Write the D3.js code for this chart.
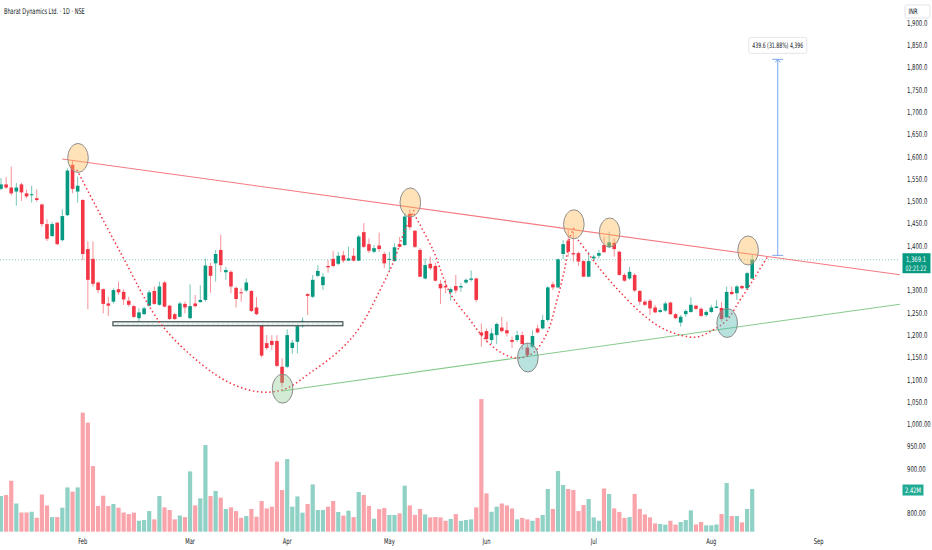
<!DOCTYPE html>
<html>
<head>
<meta charset="utf-8">
<script src="https://cdn.jsdelivr.net/npm/d3@7"></script>
<style>
  body { margin: 0; background: #fff; }
  svg { display: block; }
  text { font-family: "Liberation Sans Narrow", "DejaVu Sans Condensed", "Roboto Condensed", "Liberation Sans", sans-serif; fill: #131722; }
</style>
</head>
<body>
<svg width="932" height="550"></svg>
<script>
// daily candles (index 1 = first visible bar)
var open = [1528,1538,1531,1522,1538,1518,1514,1507,1493,1449,1422,1452,1413,1469,1582,1522,1503,1393,1371,1318,
  1303,1271,1275,1303,1297,1277,1265,1238,1247,1266,1299,1268,1318,1266,1247,1241,1270,1238,1271,1274,
  1279,1355,1361,1391,1341,1342,1306,1296,1300,1299,1262,1229,1182,1187,1187,1129,1129,1171,1185,1220,
  1292,1286,1333,1312,1355,1371,1360,1379,1367,1378,1367,1431,1404,1387,1401,1382,1369,1366,1404,1402,
  1472,1434,1391,1327,1360,1355,1315,1310,1296,1310,1307,1318,1324,1327,1206,1209,1189,1200,1217,1211,
  1189,1189,1200,1172,1174,1215,1215,1234,1314,1307,1382,1412,1384,1384,1366,1331,1372,1378,1402,1397,
  1407,1387,1335,1327,1335,1299,1275,1277,1262,1252,1255,1273,1247,1228,1247,1252,1266,1259,1245,1252,
  1261,1261,1240,1297,1294,1310,1305,1327];
var high = [1552,1554,1578,1541,1542,1527,1535,1527,1495,1460,1454,1454,1482,1574,1593,1555,1505,1410,1410,1320,
  1305,1286,1305,1320,1303,1286,1268,1260,1264,1301,1309,1320,1321,1268,1250,1275,1275,1314,1290,1312,
  1372,1362,1391,1425,1353,1345,1309,1305,1327,1301,1285,1231,1200,1200,1200,1148,1213,1189,1226,1240,
  1294,1335,1357,1339,1368,1389,1387,1389,1398,1395,1425,1451,1417,1402,1430,1387,1387,1406,1420,1473,
  1482,1436,1395,1372,1376,1362,1324,1325,1307,1335,1316,1327,1345,1329,1226,1215,1215,1228,1241,1230,
  1197,1210,1208,1182,1211,1223,1245,1310,1320,1372,1413,1436,1432,1387,1368,1387,1380,1391,1421,1432,
  1417,1389,1339,1353,1339,1301,1279,1281,1268,1260,1275,1275,1249,1245,1258,1285,1268,1262,1256,1268,
  1279,1275,1309,1309,1312,1312,1342,1380];
var low = [1525,1528,1514,1490,1501,1507,1497,1499,1443,1411,1421,1402,1410,1467,1518,1497,1368,1258,1309,1294,
  1249,1243,1271,1290,1268,1264,1238,1230,1245,1264,1268,1266,1262,1234,1234,1240,1249,1236,1262,1273,
  1275,1295,1320,1341,1324,1294,1262,1275,1297,1252,1245,1150,1167,1167,1128,1084,1126,1158,1159,1217,
  1245,1283,1330,1301,1340,1352,1357,1362,1366,1365,1366,1395,1384,1384,1387,1350,1342,1365,1396,1400,
  1436,1395,1330,1325,1346,1320,1270,1294,1277,1294,1297,1315,1320,1274,1174,1183,1180,1180,1206,1197,
  1171,1185,1167,1152,1171,1204,1213,1230,1301,1305,1370,1376,1365,1355,1330,1330,1365,1372,1384,1395,
  1376,1333,1320,1324,1297,1268,1265,1245,1249,1250,1252,1245,1236,1219,1241,1250,1256,1240,1241,1250,
  1260,1230,1238,1290,1279,1303,1303,1325];
var close = [1538,1531,1518,1531,1520,1511,1516,1503,1449,1416,1449,1404,1467,1569,1528,1535,1382,1324,1315,1301,
  1270,1266,1301,1296,1280,1268,1241,1251,1260,1296,1270,1309,1264,1236,1236,1271,1262,1265,1265,1279,
  1356,1333,1382,1357,1346,1309,1281,1294,1318,1254,1247,1154,1171,1178,1131,1093,1200,1183,1220,1232,
  1288,1324,1344,1331,1352,1355,1378,1367,1372,1367,1421,1398,1389,1395,1393,1361,1371,1397,1398,1466,
  1442,1398,1331,1357,1350,1322,1305,1307,1303,1300,1310,1324,1327,1279,1200,1191,1204,1225,1209,1204,
  1185,1200,1180,1155,1198,1206,1234,1307,1307,1370,1404,1387,1381,1365,1331,1366,1376,1384,1386,1408,
  1393,1335,1322,1342,1300,1275,1268,1260,1251,1256,1271,1247,1238,1241,1254,1268,1259,1243,1252,1262,
  1264,1236,1297,1292,1309,1305,1339,1369.1];
// volume in millions
var volume = [2.02,2.08,2.89,1.60,1.09,1.09,1.13,0.79,2.11,1.49,0.83,0.83,1.36,2.51,2.27,2.51,6.75,6.18,3.72,1.46,
  2.04,1.46,1.57,1.36,1.09,1.00,1.08,0.62,0.66,1.17,0.70,2.02,1.38,1.23,0.70,0.92,0.83,3.42,1.49,1.89,
  4.91,2.02,2.31,1.93,1.29,1.38,1.17,0.79,0.89,1.29,0.85,1.74,1.32,1.42,3.97,2.36,4.12,1.42,2.00,1.08,
  1.57,2.68,1.23,1.23,1.42,1.74,1.12,0.91,1.19,0.83,2.25,2.08,1.46,0.74,1.28,1.34,0.95,0.95,1.04,2.61,
  1.49,0.95,1.29,0.98,0.81,0.83,0.81,0.62,0.72,1.00,0.61,0.66,0.70,1.38,7.52,2.17,1.13,1.42,1.60,1.49,
  1.32,0.70,0.78,0.70,0.62,0.78,0.95,2.42,1.29,3.44,2.65,2.42,2.36,1.17,1.51,1.85,0.81,0.62,2.45,2.14,
  1.32,1.12,0.78,0.83,2.14,1.29,0.98,0.81,0.47,0.44,0.40,0.62,0.40,0.55,0.66,1.21,0.41,0.55,0.36,0.36,
  0.41,1.00,2.76,0.89,0.89,0.53,1.29,2.42];

var monthLabels = ["Feb", "Mar", "Apr", "May", "Jun", "Jul", "Aug", "Sep"];
var monthIdx = [17, 38, 57, 77, 96, 117, 140, 161];
// 1,350 and 850 sit under the price / volume tags, so they are not shown
var priceTicks = [1900,1850,1800,1750,1700,1650,1600,1550,1500,1450,1400,1300,1250,1200,1150,1100,1050];
var lowTicks = [1000, 950, 900, 800];

// drawings: [bar index, price]
var resistance = [[13.0, 1595], [176.9, 1335.3]];
var support = [[55.9, 1074.7], [176.9, 1269.4]];
var zone = [[22.9, 1230], [67.9, 1221]];
var peaks = [[16.07, 1597.3], [81.1, 1497.5], [113.1, 1448.6], [120.1, 1430.2], [147.2, 1389.8]];
var troughs = [[56.1, 1079.9], [104.1, 1149.8], [143.1, 1227.2]];
var cup1 = [[15.87,1570.4],[24.42,1384.2],[32.31,1225.0],[39.94,1137.5],[45.81,1092.7],[51.68,1072.5],[56.58,1079.2],
  [61.47,1115.1],[67.34,1166.7],[71.25,1218.2],[75.17,1301.2],[77.71,1361.8],[80.06,1435.8],[82.02,1485.1]];
var cup2 = [[81.82,1471.7],[85.54,1390.9],[88.87,1294.5],[92.78,1234.0],[95.33,1195.8],[98.65,1162.2],[101.98,1148.7],
  [105.11,1160.0],[107.85,1204.8],[109.81,1278.8],[111.37,1352.8],[112.35,1420.1],[113.13,1440.3]];
var cup3 = [[113.92,1413.4],[116.27,1377.5],[118.22,1348.3],[120.18,1321.4],[122.14,1296.7],[126.05,1251.9],[129.96,1218.2],
  [133.88,1200.3],[137.20,1195.8],[140.33,1211.5],[143.07,1234.0],[145.62,1278.8],[147.58,1312.4],[149.14,1341.6],[151.10,1377.5]];
var measure = {idx: 153.0, from: 1378.9, to: 1818.5, label: "439.6 (31.88%) 4,396"};
var lastPrice = 1369.1;
var countdown = "02:21:22";
var lastVolume = "2.42M";

var up = "#089981", down = "#f23645";

var svg = d3.select("svg");
var x = d3.scaleLinear().domain([1, 148]).range([1, 752.2]);
var y = d3.scaleLinear().domain([1050, 1900]).range([402, 23]);
var yv = d3.scaleLinear().domain([0, 8]).range([531.7, 390.6]);

var bars = d3.range(open.length).map(function(i) {
  return {i: i + 1, o: open[i], h: high[i], l: low[i], c: close[i], v: volume[i]};
});
function col(d) { return d.c >= d.o ? up : down; }

// the original uses a condensed face: squeeze each text horizontally around its x
function squeeze(sel, sx) {
  sel.each(function() {
    var t = d3.select(this);
    var tx = +t.attr("x"), ty = +t.attr("y");
    t.attr("x", 0).attr("y", 0)
      .attr("transform", "translate(" + tx + "," + ty + ") scale(" + sx + ",1)");
  });
}
function fitTo(sel, w) {
  var n = sel.node().getComputedTextLength();
  squeeze(sel, w / n);
}

var plot = svg.append("g");

// volume
plot.append("g").selectAll("rect").data(bars).enter().append("rect")
  .attr("x", d => x(d.i) - 2.1)
  .attr("width", 4.2)
  .attr("y", d => yv(d.v))
  .attr("height", d => yv(0) - yv(d.v))
  .attr("fill", col)
  .attr("opacity", 0.45);

// last price line
plot.append("line")
  .attr("x1", 0).attr("x2", 900)
  .attr("y1", y(lastPrice)).attr("y2", y(lastPrice))
  .attr("stroke", up).attr("stroke-opacity", 0.5)
  .attr("stroke-dasharray", "1 2");

// candles
var candle = plot.append("g").selectAll("g").data(bars).enter().append("g");
candle.append("line")
  .attr("x1", d => x(d.i)).attr("x2", d => x(d.i))
  .attr("y1", d => y(d.h)).attr("y2", d => y(d.l))
  .attr("stroke", col).attr("stroke-opacity", 0.55);
candle.append("rect")
  .attr("x", d => x(d.i) - 1.8)
  .attr("width", 3.6)
  .attr("y", d => y(Math.max(d.o, d.c)))
  .attr("height", d => Math.max(1, Math.abs(y(d.o) - y(d.c))))
  .attr("fill", col);

// support zone
plot.append("rect")
  .attr("x", x(zone[0][0])).attr("width", x(zone[1][0]) - x(zone[0][0]))
  .attr("y", y(zone[0][1])).attr("height", y(zone[1][1]) - y(zone[0][1]))
  .attr("fill", "#dcebe8").attr("stroke", "#3b4646").attr("stroke-width", 1.1);
plot.append("line")
  .attr("x1", x(zone[0][0]) + 1).attr("x2", x(zone[1][0]) - 1)
  .attr("y1", (y(zone[0][1]) + y(zone[1][1])) / 2).attr("y2", (y(zone[0][1]) + y(zone[1][1])) / 2)
  .attr("stroke", "#fff").attr("stroke-width", 1.2).attr("stroke-dasharray", "3 2");

// trend lines
var line = d3.line().x(d => x(d[0])).y(d => y(d[1]));
plot.append("path").attr("d", line(resistance)).attr("stroke", "#f47a82").attr("stroke-width", 1.1).attr("fill", "none");
plot.append("path").attr("d", line(support)).attr("stroke", "#86cb8c").attr("stroke-width", 1.1).attr("fill", "none");

// cup curves
var curve = d3.line().x(d => x(d[0])).y(d => y(d[1])).curve(d3.curveCatmullRom);
[cup1, cup2, cup3].forEach(function(pts) {
  plot.append("path").attr("d", curve(pts))
    .attr("fill", "none").attr("stroke", "#f23645")
    .attr("stroke-width", 1.5).attr("stroke-dasharray", "1.5 2.6");
});

// markers
plot.append("g").selectAll("ellipse").data(peaks).enter().append("ellipse")
  .attr("cx", d => x(d[0])).attr("cy", d => y(d[1]))
  .attr("rx", 10.3).attr("ry", 14.5)
  .attr("fill", "rgba(255,183,77,0.4)").attr("stroke", "#8f8f8f");
plot.append("g").selectAll("ellipse").data(troughs).enter().append("ellipse")
  .attr("cx", d => x(d[0])).attr("cy", d => y(d[1]))
  .attr("rx", 10.3).attr("ry", 14.5)
  .attr("fill", (d, i) => i === 0 ? "rgba(129,199,132,0.35)" : "rgba(77,182,172,0.4)")
  .attr("stroke", "#8a8a8a");

// measure tool
var mx = x(measure.idx);
var mg = plot.append("g").attr("stroke", "#7da6f2").attr("stroke-width", 1);
mg.append("line").attr("x1", mx).attr("x2", mx).attr("y1", y(measure.to)).attr("y2", y(measure.from));
mg.append("line").attr("x1", mx - 5.5).attr("x2", mx + 5.5).attr("y1", y(measure.to)).attr("y2", y(measure.to));
mg.append("line").attr("x1", mx - 5.5).attr("x2", mx + 5.5).attr("y1", y(measure.from)).attr("y2", y(measure.from));
mg.append("path").attr("fill", "none")
  .attr("d", "M" + (mx - 2.5) + "," + (y(measure.to) + 3) + "L" + mx + "," + y(measure.to) + "L" + (mx + 2.5) + "," + (y(measure.to) + 3));
plot.append("rect")
  .attr("x", mx - 29).attr("y", y(measure.to) - 22).attr("width", 58).attr("height", 16).attr("rx", 2)
  .attr("fill", "#fff").attr("stroke", "#e3e5ea");
plot.append("text").attr("x", mx).attr("y", y(measure.to) - 11.2)
  .attr("text-anchor", "middle").attr("font-size", 7.5).text(measure.label)
  .call(fitTo, 51);

// title
svg.append("text").attr("x", 4).attr("y", 14).attr("font-size", 8)
  .text("Bharat Dynamics Ltd. · 1D · NSE")
  .call(fitTo, 81);

// month axis
svg.append("g").selectAll("text").data(monthLabels).enter().append("text")
  .attr("x", (d, i) => x(monthIdx[i])).attr("y", 544)
  .attr("text-anchor", "middle").attr("font-size", 8)
  .text(d => d)
  .call(squeeze, 0.72);

// price axis
var ax = svg.append("g");
ax.selectAll("text.p").data(priceTicks).enter().append("text")
  .attr("x", 907).attr("y", d => y(d) + 2.8).attr("font-size", 8)
  .text(d => d3.format(",.1f")(d))
  .call(squeeze, 0.74);
ax.selectAll("text.l").data(lowTicks).enter().append("text")
  .attr("x", 907).attr("y", d => y(d) + 2.8).attr("font-size", 8)
  .text(d => d3.format(",.2f")(d))
  .call(squeeze, 0.74);

// INR tag
svg.append("rect").attr("x", 905).attr("y", 5).attr("width", 25).attr("height", 13).attr("rx", 2)
  .attr("fill", "#fff").attr("stroke", "#e0e3eb");
svg.append("text").attr("x", 908.5).attr("y", 14.3).attr("font-size", 7.5).text("INR")
  .call(squeeze, 0.78);

// last price tag
svg.append("rect").attr("x", 902.5).attr("y", y(lastPrice) - 6.5).attr("width", 28).attr("height", 20)
  .attr("fill", up);
svg.append("text").attr("x", 906).attr("y", y(lastPrice) + 2.5).attr("font-size", 7.5)
  .style("fill", "#fff").text(d3.format(",.1f")(lastPrice))
  .call(fitTo, 20);
svg.append("text").attr("x", 905.5).attr("y", y(lastPrice) + 11).attr("font-size", 7.5)
  .style("fill", "#fff").text(countdown)
  .call(fitTo, 21);

// volume tag
svg.append("rect").attr("x", 902.5).attr("y", yv(2.42) - 4.5).attr("width", 21).attr("height", 11)
  .attr("fill", "#22ab94");
svg.append("text").attr("x", 905).attr("y", yv(2.42) + 3.5).attr("font-size", 7.5)
  .style("fill", "#fff").text(lastVolume)
  .call(fitTo, 16);
</script>
</body>
</html>
